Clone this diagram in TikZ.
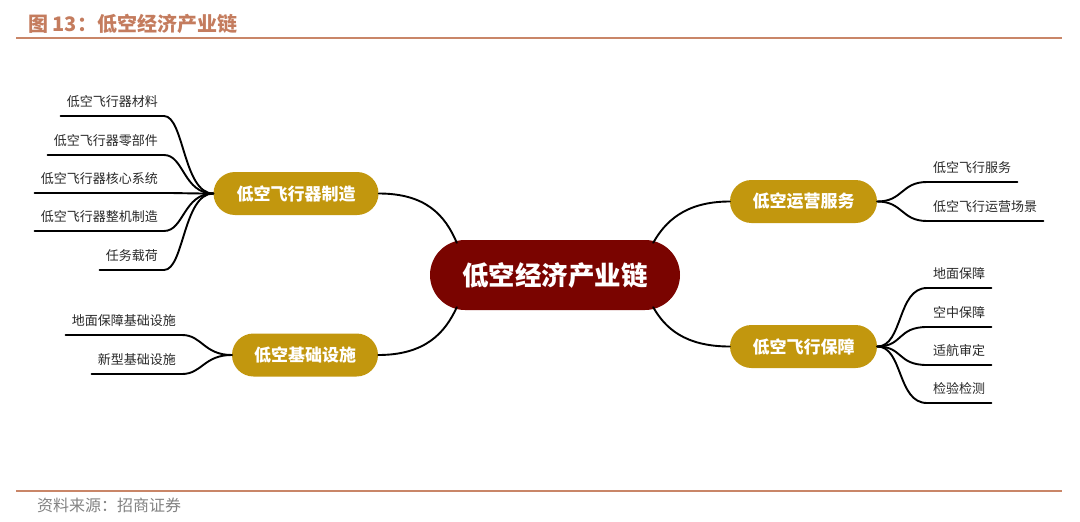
\documentclass[tikz,border=0pt]{standalone}
\usepackage{fontspec}
\setmainfont{Noto Sans CJK SC}
\usetikzlibrary{calc}
\definecolor{gold}{RGB}{194,151,14}
\definecolor{hubred}{RGB}{122,4,0}
\definecolor{rust}{RGB}{196,124,94}
\definecolor{rule}{RGB}{201,134,104}
\definecolor{leafgray}{RGB}{40,40,40}
\definecolor{srcgray}{RGB}{130,130,130}
\begin{document}
\begin{tikzpicture}[x=1pt,y=-1pt,
  hub/.style={fill=hubred, rounded corners=35pt, minimum width=250pt, minimum height=70pt, inner sep=0pt, text=white, font=\fontsize{26.5}{30}\selectfont\bfseries},
  branch/.style={fill=gold, rounded corners=21.5pt, minimum height=43pt, inner sep=0pt, text=white, font=\fontsize{17}{20}\selectfont\bfseries},
  leaf/.style={font=\fontsize{13}{15}\selectfont, text=leafgray, inner xsep=6pt, inner ysep=0pt, text height=11pt, text depth=9.5pt},
  conn/.style={line width=1.9pt, black, line cap=round},
  rulestyle/.style={line width=2.6pt, rule}]
\useasboundingbox (0,0) rectangle (1080,522);
% header and footer
\node[anchor=west, inner sep=0pt, text=rust, font=\fontsize{20}{24}\selectfont\bfseries] (title) at (28,24) {图 13：低空经济产业链};
\coordinate (rt1) at (16,38);
\coordinate (rt2) at (1062,38);
\draw[rulestyle] (rt1) -- (rt2);
\coordinate (rb1) at (16,491);
\coordinate (rb2) at (1062,491);
\draw[rulestyle] (rb1) -- (rb2);
\node[anchor=west, inner sep=0pt, text=srcgray, font=\fontsize{16}{18}\selectfont] (src) at (37,505) {资料来源：招商证券};
% hub and branches
\node[hub] (hub) at (555,275) {低空经济产业链};
\node[branch, minimum width=165pt] (mfg) at (296,193.5) {低空飞行器制造};
\node[branch, minimum width=146pt] (infra) at (305,355) {低空基础设施};
\node[branch, minimum width=147pt] (ops) at (803.5,201.5) {低空运营服务};
\node[branch, minimum width=147pt] (sec) at (803.5,346.5) {低空飞行保障};
% hub connectors
\draw[conn] (mfg.east) .. controls +(47,0) and (445,215) .. ($(hub.north west)+(27,3)$);
\draw[conn] (infra.east) .. controls +(47,0) and (445,333) .. ($(hub.south west)+(27,-3)$);
\draw[conn] (ops.west) .. controls +(-45,0) and (665,222) .. ($(hub.north east)+(-27,3)$);
\draw[conn] (sec.west) .. controls +(-45,0) and (665,328) .. ($(hub.south east)+(-27,-3)$);
% manufacturing leaves
\node[leaf, anchor=south east] (l1) at (164,116) {低空飞行器材料};
\node[leaf, anchor=south east] (l2) at (164,155) {低空飞行器零部件};
\node[leaf, anchor=south east] (l3) at (164,193) {低空飞行器核心系统};
\node[leaf, anchor=south east] (l4) at (164,231) {低空飞行器整机制造};
\node[leaf, anchor=south east] (l5) at (164,270) {任务载荷};
\foreach \n in {l1,l2,l3,l4,l5}
  \draw[conn] (\n.south west) -- (\n.south east) .. controls +(20,0) and +(-30,0) .. (mfg.west);
% infrastructure leaves
\node[leaf, anchor=south east] (i1) at (182,335) {地面保障基础设施};
\node[leaf, anchor=south east] (i2) at (182,374) {新型基础设施};
\foreach \n in {i1,i2}
  \draw[conn] (\n.south west) -- (\n.south east) .. controls +(20,0) and +(-28,0) .. (infra.west);
% operations leaves
\node[leaf, anchor=south west] (o1) at (927,182) {低空飞行服务};
\node[leaf, anchor=south west] (o2) at (927,221) {低空飞行运营场景};
\foreach \n in {o1,o2}
  \draw[conn] (ops.east) .. controls +(26,0) and +(-26,0) .. (\n.south west) -- (\n.south east);
% security leaves
\node[leaf, anchor=south west] (s1) at (927,288) {地面保障};
\node[leaf, anchor=south west] (s2) at (927,327) {空中保障};
\node[leaf, anchor=south west] (s3) at (927,365) {适航审定};
\node[leaf, anchor=south west] (s4) at (927,403) {检验检测};
\foreach \n in {s1,s2,s3,s4}
  \draw[conn] (sec.east) .. controls +(26,0) and +(-30,0) .. (\n.south west) -- (\n.south east);
\end{tikzpicture}
\end{document}
